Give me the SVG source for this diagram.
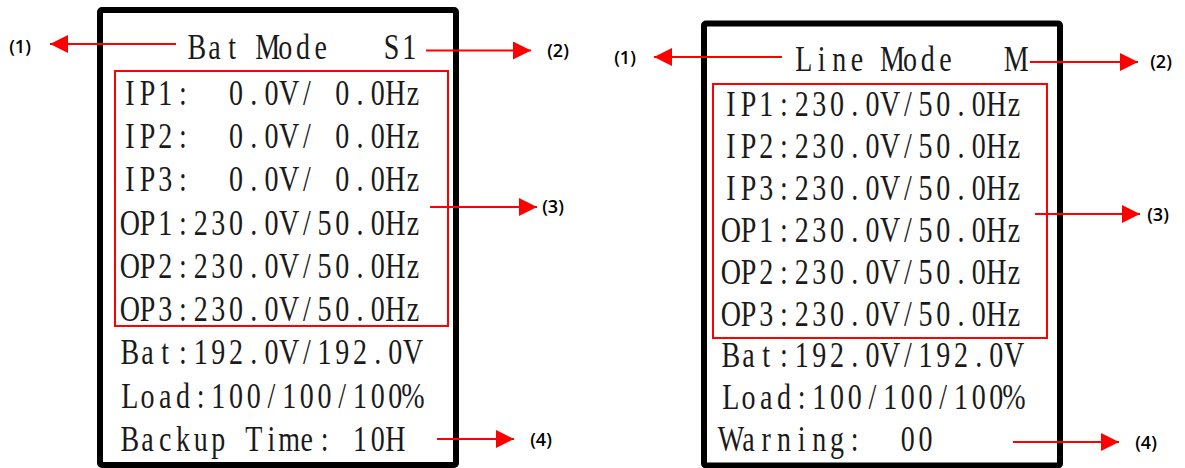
<svg xmlns="http://www.w3.org/2000/svg" width="1185" height="468" viewBox="0 0 1185 468" xml:space="preserve">
<defs>
<style>
.frame{fill:none;stroke:#000;stroke-width:6}
.sel{fill:none;stroke:#f00;stroke-width:2}
.lcd{font-family:"Liberation Serif","Times New Roman",serif;font-size:35px;fill:#1a1a1a;text-anchor:middle;white-space:pre}
.lbl{font-family:"Open Sans","Liberation Sans",sans-serif;font-size:18px;font-weight:600;fill:#000;text-anchor:middle}
.arr{stroke:#f00;stroke-width:2;fill:none;marker-end:url(#ah)}
</style>
<marker id="ah" viewBox="0 0 18 18" refX="18" refY="9" markerWidth="18" markerHeight="18" markerUnits="userSpaceOnUse" orient="auto">
<path d="M0,0 L18,9 L0,18 z" fill="#f00"/>
</marker>
</defs>
<rect width="1185" height="468" fill="#fff"/>
<g id="panel-bat">
<rect class="frame" x="100" y="10" width="356" height="455" rx="2"/>
<rect class="sel" x="115" y="71" width="333" height="255"/>
<g transform="translate(188,0) scale(0.8,1)">
<text class="lcd" y="59" x="11.06 33.19 55.31 77.44 99.56 121.69 143.81 165.94 188.06 210.19 232.31 254.44 276.56">Bat Mode   S1</text>
</g>
<g transform="translate(121,0) scale(0.8,1)">
<text class="lcd" y="105" x="11.06 33.19 55.31 77.44 99.56 121.69 143.81 165.94 188.06 210.19 232.31 254.44 276.56 298.69 320.81 342.94 365.06">IP1:  0.0V/ 0.0Hz</text>
<text class="lcd" y="148.5" x="11.06 33.19 55.31 77.44 99.56 121.69 143.81 165.94 188.06 210.19 232.31 254.44 276.56 298.69 320.81 342.94 365.06">IP2:  0.0V/ 0.0Hz</text>
<text class="lcd" y="191.5" x="11.06 33.19 55.31 77.44 99.56 121.69 143.81 165.94 188.06 210.19 232.31 254.44 276.56 298.69 320.81 342.94 365.06">IP3:  0.0V/ 0.0Hz</text>
<text class="lcd" y="235" x="11.06 33.19 55.31 77.44 99.56 121.69 143.81 165.94 188.06 210.19 232.31 254.44 276.56 298.69 320.81 342.94 365.06">OP1:230.0V/50.0Hz</text>
<text class="lcd" y="278" x="11.06 33.19 55.31 77.44 99.56 121.69 143.81 165.94 188.06 210.19 232.31 254.44 276.56 298.69 320.81 342.94 365.06">OP2:230.0V/50.0Hz</text>
<text class="lcd" y="321.5" x="11.06 33.19 55.31 77.44 99.56 121.69 143.81 165.94 188.06 210.19 232.31 254.44 276.56 298.69 320.81 342.94 365.06">OP3:230.0V/50.0Hz</text>
<text class="lcd" y="364.5" x="11.06 33.19 55.31 77.44 99.56 121.69 143.81 165.94 188.06 210.19 232.31 254.44 276.56 298.69 320.81 342.94 365.06">Bat:192.0V/192.0V</text>
<text class="lcd" y="408" x="11.06 33.19 55.31 77.44 99.56 121.69 143.81 165.94 188.06 210.19 232.31 254.44 276.56 298.69 320.81 342.94 365.06">Load:100/100/100%</text>
<text class="lcd" y="451" x="11.06 33.19 55.31 77.44 99.56 121.69 143.81 165.94 188.06 210.19 232.31 254.44 276.56 298.69 320.81 342.94 365.06">Backup Time: 10H</text>
</g>
</g>
<g id="panel-line">
<rect class="frame" x="704" y="23.5" width="356" height="442" rx="2"/>
<rect class="sel" x="713" y="84" width="334" height="254"/>
<g transform="translate(795,0) scale(0.8,1)">
<text class="lcd" y="71" x="11.06 33.19 55.31 77.44 99.56 121.69 143.81 165.94 188.06 210.19 232.31 254.44 276.56">Line Mode   M</text>
</g>
<g transform="translate(722,0) scale(0.8,1)">
<text class="lcd" y="116" x="11.06 33.19 55.31 77.44 99.56 121.69 143.81 165.94 188.06 210.19 232.31 254.44 276.56 298.69 320.81 342.94 365.06">IP1:230.0V/50.0Hz</text>
<text class="lcd" y="158" x="11.06 33.19 55.31 77.44 99.56 121.69 143.81 165.94 188.06 210.19 232.31 254.44 276.56 298.69 320.81 342.94 365.06">IP2:230.0V/50.0Hz</text>
<text class="lcd" y="200" x="11.06 33.19 55.31 77.44 99.56 121.69 143.81 165.94 188.06 210.19 232.31 254.44 276.56 298.69 320.81 342.94 365.06">IP3:230.0V/50.0Hz</text>
<text class="lcd" y="242" x="11.06 33.19 55.31 77.44 99.56 121.69 143.81 165.94 188.06 210.19 232.31 254.44 276.56 298.69 320.81 342.94 365.06">OP1:230.0V/50.0Hz</text>
<text class="lcd" y="284" x="11.06 33.19 55.31 77.44 99.56 121.69 143.81 165.94 188.06 210.19 232.31 254.44 276.56 298.69 320.81 342.94 365.06">OP2:230.0V/50.0Hz</text>
<text class="lcd" y="326" x="11.06 33.19 55.31 77.44 99.56 121.69 143.81 165.94 188.06 210.19 232.31 254.44 276.56 298.69 320.81 342.94 365.06">OP3:230.0V/50.0Hz</text>
<text class="lcd" y="367" x="11.06 33.19 55.31 77.44 99.56 121.69 143.81 165.94 188.06 210.19 232.31 254.44 276.56 298.69 320.81 342.94 365.06">Bat:192.0V/192.0V</text>
<text class="lcd" y="409" x="11.06 33.19 55.31 77.44 99.56 121.69 143.81 165.94 188.06 210.19 232.31 254.44 276.56 298.69 320.81 342.94 365.06">Load:100/100/100%</text>
<text class="lcd" y="451" x="11.06 33.19 55.31 77.44 99.56 121.69 143.81 165.94 188.06 210.19 232.31 254.44 276.56">Warning:  00</text>
</g>
</g>
<g id="labels">
<text class="lbl" x="20" y="53">(1)</text>
<text class="lbl" x="558" y="57">(2)</text>
<text class="lbl" x="553" y="213">(3)</text>
<text class="lbl" x="541" y="446">(4)</text>
<text class="lbl" x="625" y="64">(1)</text>
<text class="lbl" x="1161" y="68">(2)</text>
<text class="lbl" x="1158" y="221">(3)</text>
<text class="lbl" x="1146" y="449">(4)</text>
</g>
<g id="connectors">
<line class="arr" x1="176" y1="44" x2="50" y2="44"/>
<line class="arr" x1="426" y1="50.5" x2="531" y2="50.5"/>
<line class="arr" x1="430" y1="207" x2="537" y2="207"/>
<line class="arr" x1="437" y1="439" x2="514" y2="439"/>
<line class="arr" x1="782" y1="57" x2="654" y2="57"/>
<line class="arr" x1="1030" y1="62" x2="1138" y2="62"/>
<line class="arr" x1="1035" y1="214" x2="1140" y2="214"/>
<line class="arr" x1="1013" y1="442" x2="1119" y2="442"/>
</g>
</svg>
